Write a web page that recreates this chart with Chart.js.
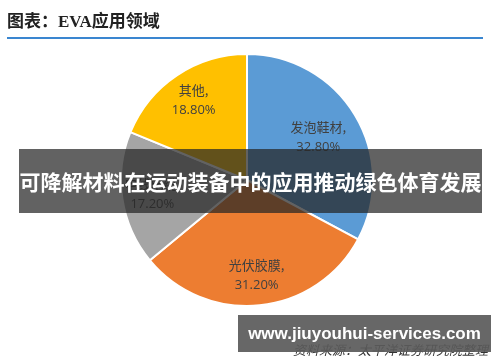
<!DOCTYPE html>
<html>
<head>
<meta charset="utf-8">
<script src="https://cdn.jsdelivr.net/npm/chart.js@4/dist/chart.umd.min.js"></script>
<style>
  body { margin: 0; background: #fff; }
  #wrap { position: relative; width: 500px; height: 362px; overflow: hidden; }
  #myChart { position: absolute; left: 0; top: 0; }
  #titulo { position: absolute; left: 7px; top: 7px; font: bold 17px "Liberation Serif", "Noto Sans CJK SC", serif; color: #222; }
  #linha { position: absolute; left: 7px; top: 37px; width: 476px; height: 2px; background: #3a86d0; }
  #fonte { position: absolute; right: 12px; top: 340px; font: italic 13px "Noto Sans CJK SC", sans-serif; color: #333; }
  #faixa { position: absolute; left: 19px; top: 149px; width: 463px; height: 64px; background: rgba(38,38,38,0.72);
           color: #fff; font: bold 21px "Noto Sans CJK SC", sans-serif; line-height: 64px; text-align: center; white-space: nowrap; }
  #site { position: absolute; left: 238px; top: 315px; width: 253px; height: 37px; background: rgba(90,90,90,0.92);
          color: #fff; font: bold 17px "Liberation Sans", "DejaVu Sans", sans-serif; line-height: 37px; text-align: center; white-space: nowrap; }
</style>
</head>
<body>
<div id="wrap">
  <canvas id="myChart" width="500" height="362"></canvas>
  <div id="titulo">图表：EVA应用领域</div>
  <div id="linha"></div>
  <div id="fonte">资料来源：太平洋证券研究院整理</div>
  <div id="faixa">可降解材料在运动装备中的应用推动绿色体育发展</div>
  <div id="site">www.jiuyouhui-services.com</div>
</div>
<script>
// Dados do grafico
const categorias = ["发泡鞋材", "光伏胶膜", "电线电缆", "其他"];
const valores = [32.8, 31.2, 17.2, 18.8];
const cores = ["#5b9bd5", "#ed7d31", "#a5a5a5", "#ffc000"];

// Rotulos dentro das fatias
const rotulos = {
  id: "rotulos",
  afterDatasetsDraw(chart) {
    const ctx = chart.ctx;
    const meta = chart.getDatasetMeta(0);
    ctx.save();
    ctx.fillStyle = "#404040";
    ctx.textAlign = "center";
    ctx.textBaseline = "middle";
    meta.data.forEach((arc, i) => {
      const p = arc.getProps(["x", "y", "startAngle", "endAngle", "outerRadius"], true);
      const ang = (p.startAngle + p.endAngle) / 2;
      const r = p.outerRadius * (i === 0 ? 0.66 : 0.76);
      const x = p.x + Math.cos(ang) * r;
      const y = p.y + Math.sin(ang) * r;
      ctx.font = '13px "Noto Sans CJK SC", "Open Sans", sans-serif';
      ctx.fillText(categorias[i] + ",", x, y - 10);
      ctx.font = '13px "Open Sans", sans-serif';
      ctx.fillText(valores[i].toFixed(2) + "%", x, y + 10);
    });
    ctx.restore();
  },
};

const ctx = document.getElementById("myChart").getContext("2d");
const myChart = new Chart(ctx, {
  type: "pie",
  data: {
    labels: categorias,
    datasets: [
      {
        data: valores,
        backgroundColor: cores,
        borderColor: "#ffffff",
        borderWidth: 2,
        hoverOffset: 0,
      },
    ],
  },
  options: {
    responsive: false,
    animation: false,
    layout: { padding: { top: 53, bottom: 55, left: 0, right: 6 } },
    plugins: {
      legend: { display: false },
      tooltip: { enabled: false },
    },
  },
  plugins: [rotulos],
});
</script>
</body>
</html>
